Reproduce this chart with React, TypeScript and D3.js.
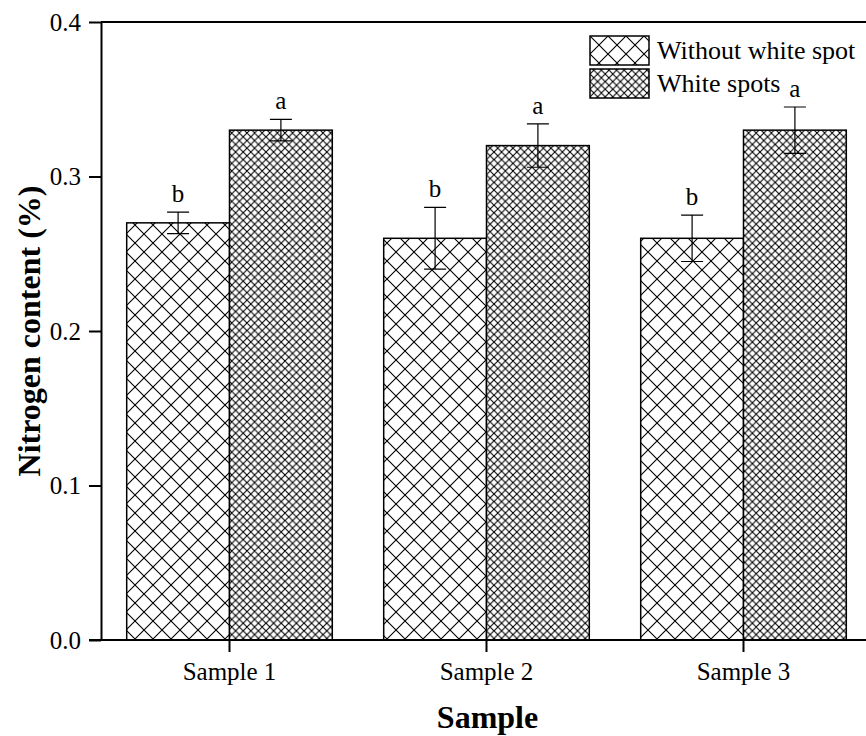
import { useEffect, useRef } from 'react';
import * as d3 from 'd3';

const samples = ['Sample 1', 'Sample 2', 'Sample 3'];
const seriesNames = ['Without white spot', 'White spots'];
const withoutSpot = [0.27, 0.26, 0.26];
const withoutSpotErr = [0.007, 0.02, 0.015];
const whiteSpots = [0.33, 0.32, 0.33];
const whiteSpotsErr = [0.007, 0.014, 0.015];
const withoutLetters = ['b', 'b', 'b'];
const whiteLetters = ['a', 'a', 'a'];
const yTicks = [0.0, 0.1, 0.2, 0.3, 0.4];

export default function App() {
    const svgRef = useRef<SVGSVGElement>(null);

    useEffect(() => {
        if (!svgRef.current) return;
        const root = d3.select(svgRef.current);
        root.selectAll('*').remove();

        const W = 866, H = 736;
        const left = 101, top = 22, bottom = 640;
        const font = '"Liberation Serif", "Times New Roman", serif';

        root.attr('width', W).attr('height', H);

        // hatch patterns
        const defs = root.append('defs');
        const addHatch = (id: string, size: number, sw: number) => {
            const p = defs.append('pattern')
                .attr('id', id)
                .attr('patternUnits', 'userSpaceOnUse')
                .attr('width', size)
                .attr('height', size);
            p.append('rect').attr('width', size).attr('height', size).attr('fill', '#fff');
            p.append('path')
                .attr('d', `M0,0L${size},${size}M${size},0L0,${size}M${-size / 2},${size / 2}L${size / 2},${size * 1.5}M${size / 2},${-size / 2}L${size * 1.5},${size / 2}M${size / 2},${-size / 2}L${-size / 2},${size / 2}M${size * 1.5},${size / 2}L${size / 2},${size * 1.5}`)
                .attr('stroke', '#000')
                .attr('stroke-width', sw)
                .attr('fill', 'none');
        };
        addHatch('hatchA', 18, 1.1);
        addHatch('hatchB', 7.6, 1.1);

        const x = d3.scaleBand<string>()
            .domain(samples)
            .range([left, left + 771])
            .paddingInner(0.2)
            .paddingOuter(0.1);
        const xSub = d3.scaleBand<string>()
            .domain(seriesNames)
            .range([0, x.bandwidth()]);
        const y = d3.scaleLinear().domain([0, 0.4]).range([bottom, top]);

        const g = root.append('g');

        const series = [
            { name: seriesNames[0], vals: withoutSpot, errs: withoutSpotErr, letters: withoutLetters, fill: 'url(#hatchA)' },
            { name: seriesNames[1], vals: whiteSpots, errs: whiteSpotsErr, letters: whiteLetters, fill: 'url(#hatchB)' },
        ];

        series.forEach(s => {
            samples.forEach((c, i) => {
                const bx = (x(c) || 0) + (xSub(s.name) || 0);
                const bw = xSub.bandwidth();
                g.append('rect')
                    .attr('x', bx)
                    .attr('y', y(s.vals[i]))
                    .attr('width', bw)
                    .attr('height', y(0) - y(s.vals[i]))
                    .attr('fill', s.fill)
                    .attr('stroke', '#000')
                    .attr('stroke-width', 1.5);
                const cx = bx + bw / 2;
                const hi = y(s.vals[i] + s.errs[i]);
                const lo = y(s.vals[i] - s.errs[i]);
                g.append('path')
                    .attr('d', `M${cx},${lo}L${cx},${hi}M${cx - 11},${hi}L${cx + 11},${hi}M${cx - 11},${lo}L${cx + 11},${lo}`)
                    .attr('stroke', '#000')
                    .attr('stroke-width', 1.2)
                    .attr('fill', 'none');
                g.append('text')
                    .attr('x', cx)
                    .attr('y', hi - 10)
                    .attr('text-anchor', 'middle')
                    .attr('font-family', font)
                    .attr('font-size', 25)
                    .text(s.letters[i]);
            });
        });

        // frame lines
        root.append('line').attr('x1', left).attr('x2', W).attr('y1', top).attr('y2', top)
            .attr('stroke', '#000').attr('stroke-width', 2);

        // y axis
        const yAxis = root.append('g')
            .attr('transform', `translate(${left},0)`)
            .call(d3.axisLeft(y).tickValues(yTicks).tickFormat(d3.format('.1f')).tickSize(12).tickSizeOuter(0));
        yAxis.attr('font-family', font).attr('font-size', 25);
        yAxis.select('.domain').attr('stroke-width', 2);
        yAxis.selectAll('.tick line').attr('stroke-width', 2);
        yAxis.selectAll('.tick text')
            .attr('fill', '#000')
            .attr('x', -20);

        // x axis
        const xAxis = root.append('g')
            .attr('transform', `translate(0,${bottom})`)
            .call(d3.axisBottom(x).tickSize(12).tickSizeOuter(0));
        xAxis.attr('font-family', font).attr('font-size', 25);
        xAxis.select('.domain').attr('d', `M${left - 12},0H${W}`).attr('stroke-width', 2);
        xAxis.selectAll('.tick line').attr('stroke-width', 2);
        xAxis.selectAll('.tick text')
            .attr('fill', '#000')
            .attr('y', 22);

        // axis titles
        root.append('text')
            .attr('x', (left + W) / 2 + 4)
            .attr('y', 728)
            .attr('text-anchor', 'middle')
            .attr('font-family', font)
            .attr('font-size', 32)
            .attr('font-weight', 'bold')
            .text('Sample');
        root.append('text')
            .attr('transform', `translate(40,${(top + bottom) / 2}) rotate(-90)`)
            .attr('text-anchor', 'middle')
            .attr('font-family', font)
            .attr('font-size', 32)
            .attr('font-weight', 'bold')
            .text('Nitrogen content (%)');

        // legend
        const lg = root.append('g').attr('transform', 'translate(590,36)');
        series.forEach((s, i) => {
            lg.append('rect')
                .attr('x', 0)
                .attr('y', i * 33)
                .attr('width', 59)
                .attr('height', 29)
                .attr('fill', s.fill)
                .attr('stroke', '#000')
                .attr('stroke-width', 1.5);
            lg.append('text')
                .attr('x', 67)
                .attr('y', i * 33 + 23)
                .attr('font-family', font)
                .attr('font-size', 26)
                .text(s.name);
        });
    }, []);

    return (
        <div>
            <style>{'body{margin:0}'}</style>
            <svg ref={svgRef} style={{ display: 'block' }} />
        </div>
    );
}
